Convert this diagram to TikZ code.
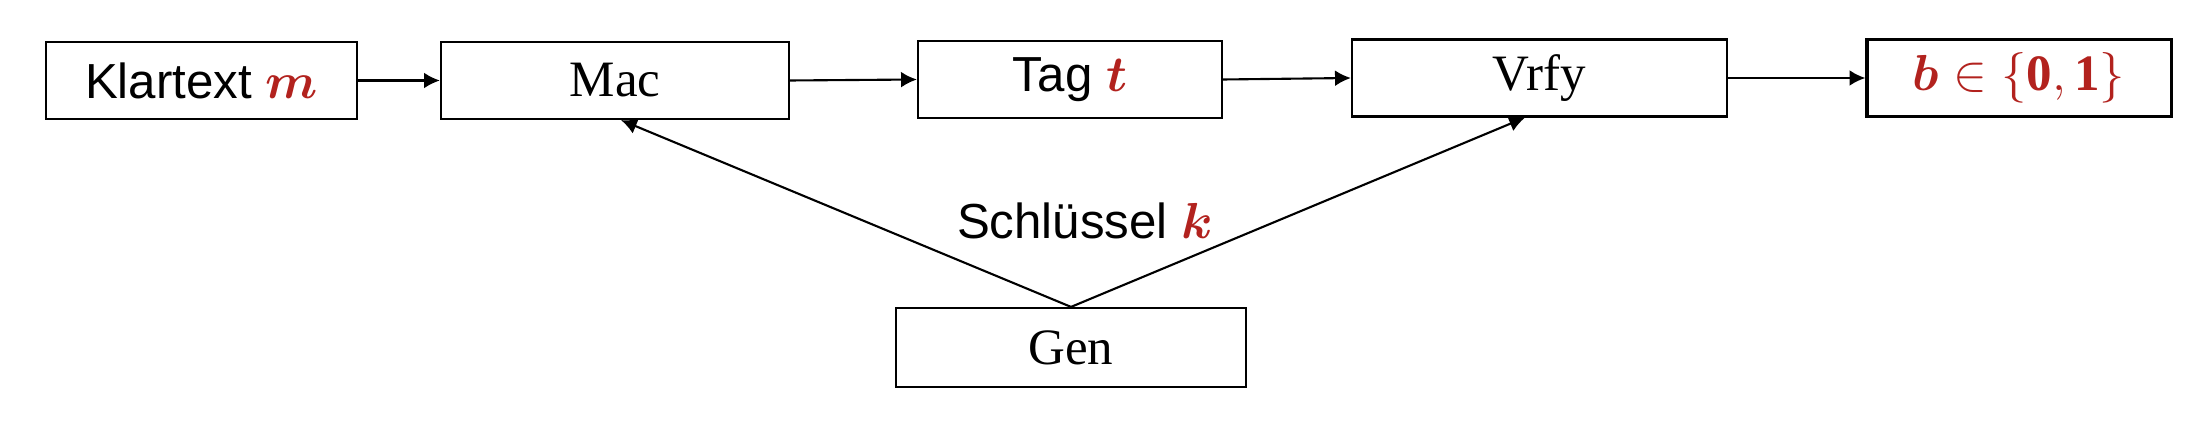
\documentclass[tikz,border=0pt]{standalone}
\usepackage{amsmath,bm}
\usepackage{fontspec}
\setmainfont{Liberation Serif}
\newfontfamily\arialf{Liberation Sans}
\usetikzlibrary{arrows.meta,calc}
\definecolor{keyred}{RGB}{178,34,30}
\begin{document}
\begin{tikzpicture}[x=0.01cm,y=-0.01cm,
  box/.style={draw=black,line width=0.6pt,minimum height=0.77cm,inner sep=0pt,
    font=\fontsize{14.5}{17}\selectfont},
  arr/.style={line width=0.6pt,-{Latex[length=4.5pt,width=4.5pt]}},
  sanslbl/.style={font=\fontsize{14}{17}\selectfont\arialf}]
\useasboundingbox (0,0) rectangle (2204,422);
\node[box,sanslbl,minimum width=3.11cm] (klar) at (201.5,80.5) {Klartext $\color{keyred}\bm{m}$};
\node[box,minimum width=3.48cm] (mac) at (615,80.5) {Mac};
\node[box,sanslbl,minimum width=3.04cm] (tag) at (1070,79.5) {Tag $\color{keyred}\bm{t}$};
\node[box,minimum width=3.75cm] (vrfy) at (1539.5,78) {Vrfy};
\node[box,line width=0.9pt,minimum width=3.04cm] (out) at (2019,78) {$\color{keyred}\bm{b}\in\{\mathbf{0},\mathbf{1}\}$};
\node[box,minimum width=3.5cm,minimum height=0.79cm] (gen) at (1071,347.5) {Gen};
\node[sanslbl] (key) at (1085,221) {Schlüssel $\color{keyred}\bm{k}$};
\draw[arr] (klar.east) -- (klar.east -| mac.west);
\draw[arr] (mac.east) -- (tag.west);
\draw[arr] (tag.east) -- (vrfy.west);
\draw[arr] (vrfy.east) -- (out.west);
\draw[arr] (gen.north) -- ([xshift=0.06cm]mac.south);
\draw[arr] (gen.north) -- ([xshift=-0.145cm]vrfy.south);
\end{tikzpicture}
\end{document}
